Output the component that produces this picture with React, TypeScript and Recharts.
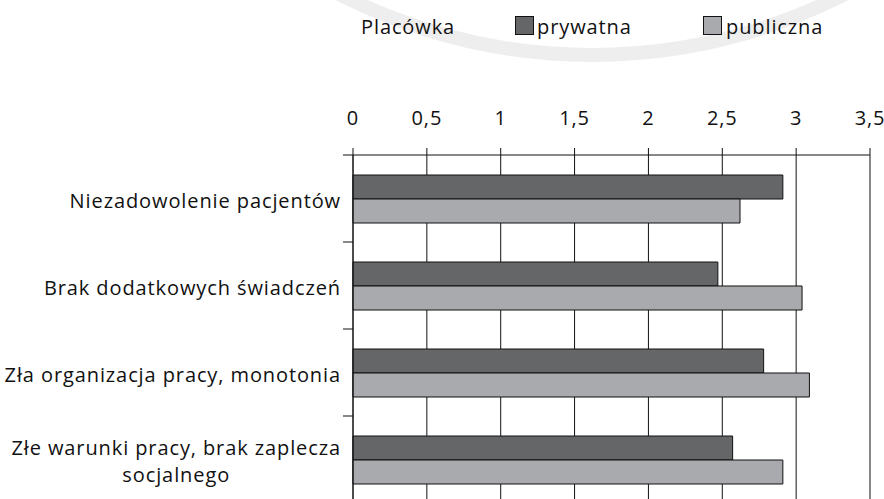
import React from 'react';
import { BarChart, Bar, XAxis, YAxis, CartesianGrid, Legend } from 'recharts';

const categories = [
    'Niezadowolenie pacjentów',
    'Brak dodatkowych świadczeń',
    'Zła organizacja pracy, monotonia',
    'Złe warunki pracy, brak zaplecza\nsocjalnego',
];
const prywatna = [2.91, 2.47, 2.78, 2.57];
const publiczna = [2.62, 3.04, 3.09, 2.91];
const xTicks = [0, 0.5, 1, 1.5, 2, 2.5, 3, 3.5];
const legendTitle = 'Placówka';

const data = categories.map((name, i) => ({ name, prywatna: prywatna[i], publiczna: publiczna[i] }));

const FONT = '"Open Sans", sans-serif';
const FS = 20;
const LS = 0.9;
const INK = '#111';
const LABEL_GAP = 12;

// category label (2nd line centred under the first) + tick at the band's upper edge
function CategoryTick(props: any) {
    const { x, y, payload, index, height } = props;
    const firstLine = React.useRef<SVGTextElement>(null);
    const [firstW, setFirstW] = React.useState(0);
    React.useLayoutEffect(() => {
        if (firstLine.current) setFirstW(firstLine.current.getBBox().width);
    }, [payload.value]);

    const band = (Number(height) || 348) / categories.length;
    const lines = String(payload.value).split('\n');
    const style = { fontFamily: FONT, fontSize: FS, fill: INK, letterSpacing: LS };
    const axisX = x + LABEL_GAP;
    const edges = [y - band / 2];
    if (index === categories.length - 1) edges.push(y + band / 2);
    const twoLines = lines.length > 1;
    return (
        <g>
            {edges.map(e => (
                <line key={e} x1={axisX - 10} x2={axisX} y1={e} y2={e} stroke={INK} />
            ))}
            <text ref={firstLine} x={x} y={twoLines ? y - 4.5 : y + 9} textAnchor="end" style={style}>{lines[0]}</text>
            {twoLines && (
                <text x={x - firstW / 2} y={y + 22} textAnchor="middle" style={style}>{lines[1]}</text>
            )}
        </g>
    );
}

function LegendBox({ payload }: any) {
    const text = { position: 'absolute' as const, top: 17, fontFamily: FONT, fontSize: FS, letterSpacing: LS, lineHeight: '20px', color: INK };
    const spots = [{ box: 515, label: 537 }, { box: 703, label: 726 }];
    return (
        <div style={{ position: 'relative', height: 55 }}>
            <span style={{ ...text, left: 361 }}>{legendTitle}</span>
            {(payload || []).map((p: any, i: number) => (
                <React.Fragment key={p.value}>
                    <span style={{ position: 'absolute', left: spots[i].box, top: 16, width: 17, height: 17, background: p.color, border: `1px solid ${INK}` }} />
                    <span style={{ ...text, left: spots[i].label }}>{p.value}</span>
                </React.Fragment>
            ))}
        </div>
    );
}

export default function App() {
    return (
        <div style={{ position: 'absolute', left: 0, top: 0, width: 884, height: 499, overflow: 'hidden', background: '#fff' }}>
            <svg width={884} height={499} style={{ position: 'absolute', left: 0, top: 0 }}>
                <circle cx={592} cy={-500} r={555} fill="none" stroke="#eeeeee" strokeWidth={14} />
            </svg>
            <div style={{ position: 'absolute', left: 0, top: 0 }}>
                <BarChart
                    width={884}
                    height={520}
                    data={data}
                    layout="vertical"
                    margin={{ top: 0, right: 14, bottom: 17, left: 352 }}
                    barSize={24}
                    barGap={0}
                >
                    <Legend verticalAlign="top" align="center" height={55} wrapperStyle={{ left: 0, top: 0, width: 884 }} content={<LegendBox />} />
                    <CartesianGrid horizontal={false} stroke={INK} />
                    <XAxis
                        type="number"
                        orientation="top"
                        domain={[0, 3.5]}
                        ticks={xTicks}
                        height={100}
                        tickSize={7}
                        tickMargin={23}
                        axisLine={{ stroke: INK }}
                        tickLine={{ stroke: INK }}
                        tick={{ fill: INK, fontSize: FS, fontFamily: FONT, letterSpacing: LS }}
                        tickFormatter={(v: number) => String(v).replace('.', ',')}
                    />
                    <YAxis
                        type="category"
                        dataKey="name"
                        width={1}
                        tickSize={0}
                        tickMargin={LABEL_GAP}
                        tickLine={false}
                        axisLine={{ stroke: INK }}
                        tick={<CategoryTick />}
                        interval={0}
                    />
                    <Bar dataKey="prywatna" name="prywatna" fill="#656668" stroke={INK} strokeWidth={1} isAnimationActive={false} />
                    <Bar dataKey="publiczna" name="publiczna" fill="#a9aaad" stroke={INK} strokeWidth={1} isAnimationActive={false} />
                </BarChart>
            </div>
        </div>
    );
}
